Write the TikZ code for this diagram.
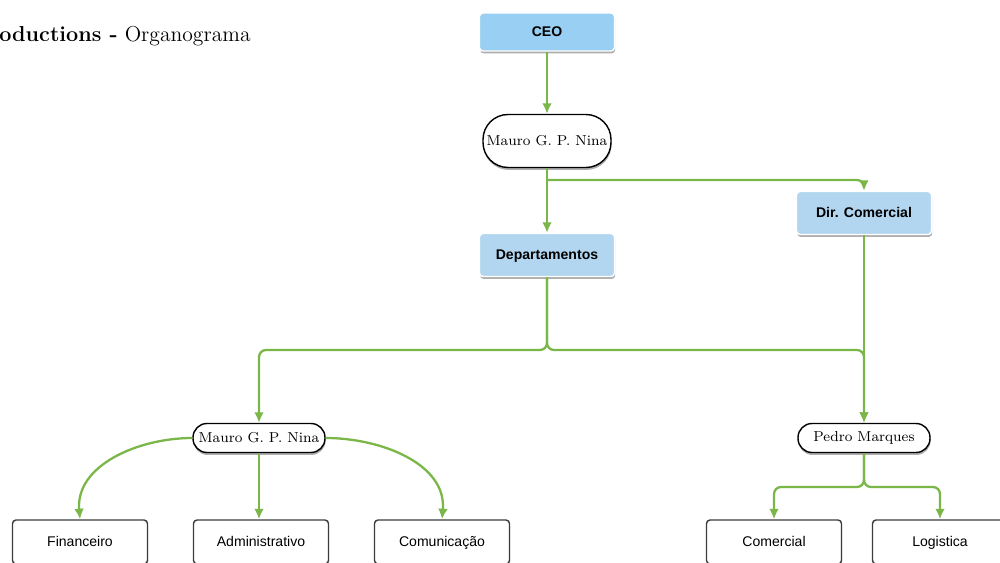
\documentclass[tikz,border=0pt]{standalone}
\usepackage{fontspec}
\setsansfont{Liberation Sans}
\usepackage{tikz}
\usetikzlibrary{arrows.meta,shadows}

\definecolor{ceoblue}{RGB}{152,207,242}
\definecolor{depblue}{RGB}{178,214,240}
\definecolor{linkgreen}{RGB}{122,182,72}
\definecolor{boxgray}{RGB}{60,60,60}

\tikzset{
  box/.style={rectangle, draw=white, line width=0.8pt, rounded corners=2pt,
    minimum width=2.7cm, inner sep=0pt, text height=1.55ex, text depth=0.35ex,
    font=\sffamily\bfseries\fontsize{8}{9}\selectfont,
    drop shadow={shadow xshift=0.4pt, shadow yshift=-1.4pt, fill=black!70, opacity=0.45}},
  ceobox/.style={box, fill=ceoblue, minimum height=0.76cm},
  depbox/.style={box, fill=depblue, minimum height=0.86cm},
  pill/.style={rectangle, draw=black, line width=0.8pt, fill=white, inner sep=0pt,
    font=\fontsize{8.2}{10}\selectfont,
    drop shadow={shadow xshift=0.3pt, shadow yshift=-1.4pt, fill=black!70, opacity=0.45}},
  leaf/.style={rectangle, draw=boxgray, line width=0.8pt, fill=white, rounded corners=2pt,
    minimum width=2.7cm, minimum height=0.88cm, inner sep=0pt,
    text height=1.55ex, text depth=0.35ex,
    font=\sffamily\fontsize{8}{9}\selectfont,
    drop shadow={shadow xshift=0.3pt, shadow yshift=-1.2pt, fill=black!60, opacity=0.35}},
  link/.style={draw=linkgreen, line width=1.3pt, rounded corners=4pt,
    -{Latex[length=6pt,width=5.5pt]}},
}

\begin{document}
\begin{tikzpicture}[x=0.02cm,y=-0.02cm]
  \useasboundingbox (0,0) rectangle (1000,563);

  % title
  \node[anchor=base west, inner sep=0pt, font=\fontsize{12.3}{15}\selectfont] (title) at (-1,42)
    {\textbf{oductions -} Organograma};

  % top
  \node[ceobox] (ceo) at (547,32) {CEO};
  \node[pill, minimum width=2.56cm, minimum height=1.06cm, rounded corners=0.5cm] (mauroA) at (547,141) {Mauro G. P. Nina};
  \node[depbox] (dircom) at (864,213) {Dir. Comercial};
  \node[depbox] (depto) at (547,255) {Departamentos};

  % middle
  \node[pill, minimum width=2.64cm, minimum height=0.58cm, rounded corners=0.28cm] (mauroB) at (259,438) {Mauro G. P. Nina};
  \node[pill, minimum width=2.64cm, minimum height=0.58cm, rounded corners=0.28cm] (pedro) at (864,438) {Pedro Marques};

  % bottom
  \node[leaf] (fin) at (80,542) {Financeiro};
  \node[leaf] (adm) at (261,542) {Administrativo};
  \node[leaf] (com) at (442,542) {Comunicação};
  \node[leaf] (comercial) at (774,542) {Comercial};
  \node[leaf] (logistica) at (940,542) {Logistica};

  \coordinate (splitA) at (547,180);
  \coordinate (splitB) at (547,350);
  \coordinate (splitC) at (864,487);

  \draw[link] (ceo) -- (mauroA);
  \draw[link] (mauroA) -- (depto);
  \draw[link] (splitA) -| (dircom.north);
  \draw[link] (depto.south) -- (splitB) -| (mauroB.north);
  \draw[link] (depto.south) -- (splitB) -| (pedro.north);
  \draw[link] (dircom) -- (pedro);

  \draw[link] (mauroB.west) to[out=180,in=95] (fin.north);
  \draw[link] (mauroB.south) -- (mauroB.south |- adm.north);
  \draw[link] (mauroB.east) to[out=0,in=85] (com.north);

  \draw[link] (pedro.south) -- (splitC) -| (comercial.north);
  \draw[link] (pedro.south) -- (splitC) -| (logistica.north);
\end{tikzpicture}
\end{document}
